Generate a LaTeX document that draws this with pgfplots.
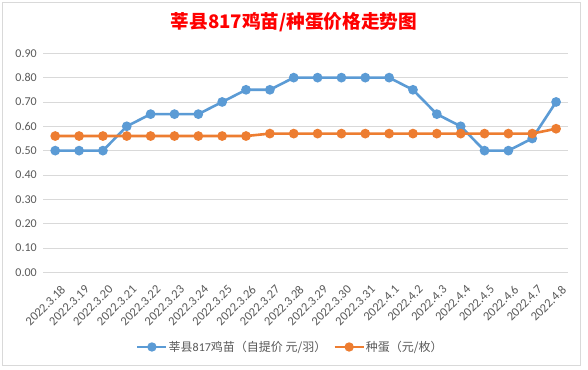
\documentclass[border=0pt]{standalone}
\usepackage{fontspec}
\usepackage{pgfplots}
\pgfplotsset{compat=1.18}
\setmainfont{Carlito}
\newfontfamily\cjk{Noto Sans CJK SC}
\definecolor{blueS}{HTML}{5B9BD5}
\definecolor{orangeS}{HTML}{ED7D31}
\definecolor{gridC}{HTML}{D9D9D9}
\definecolor{tickC}{HTML}{595959}
\definecolor{titleC}{HTML}{FF0000}
\begin{document}
\begin{tikzpicture}
\useasboundingbox (0,0) rectangle (588pt,369pt);
\fill[white] (0,0) rectangle (588pt,369pt);
\draw[gridC, line width=0.75pt] (2pt,4pt) rectangle (580pt,367pt);
\node[font=\fontsize{18.67}{22}\selectfont\cjk\bfseries, text=titleC] at (294pt,347pt) {莘县817鸡苗/种蛋价格走势图};
\begin{axis}[
  at={(43.3pt,96.7pt)}, anchor=south west,
  scale only axis, width=524.7pt, height=219pt,
  xmin=-0.5, xmax=21.5, ymin=0, ymax=0.9,
  clip=false,
  axis line style={draw=none},
  ymajorgrids, grid style={gridC, line width=0.75pt},
  major tick length=0pt,
  ytick={0,0.1,...,0.9},
  /pgf/number format/fixed, /pgf/number format/fixed zerofill, /pgf/number format/precision=2,
  /pgf/number format/assume math mode=true,
  yticklabel style={font=\fontsize{12}{14}\selectfont, text=tickC, xshift=-3pt},
  xtick={0,...,21},
  xticklabels={2022.3.18,2022.3.19,2022.3.20,2022.3.21,2022.3.22,2022.3.23,2022.3.24,2022.3.25,2022.3.26,2022.3.27,2022.3.28,2022.3.29,2022.3.30,2022.3.31,2022.4.1,2022.4.2,2022.4.3,2022.4.4,2022.4.5,2022.4.6,2022.4.7,2022.4.8},
  xticklabel style={font=\fontsize{12.5}{14}\selectfont, text=tickC, rotate=45, anchor=north east, inner sep=1pt, xshift=-4pt, yshift=-11pt},
  legend columns=2,
  legend style={at={(0.470,-0.341)}, anchor=center, draw=none, fill=none, inner sep=0pt,
    font=\fontsize{12}{14}\selectfont, text=tickC, nodes={inner sep=1pt}},
  /tikz/every even column/.append style={column sep=6pt},
  legend image code/.code={\draw[#1, mark=none] (0pt,0pt) -- (29pt,0pt); \fill[#1] (14.5pt,0pt) circle (3.3pt);},
]
\addplot[blueS, line width=2.6pt, mark=*, mark size=3.5pt, mark options={solid}] coordinates {
(0,0.50) (1,0.50) (2,0.50) (3,0.60) (4,0.65) (5,0.65) (6,0.65) (7,0.70) (8,0.75) (9,0.75) (10,0.80)
(11,0.80) (12,0.80) (13,0.80) (14,0.80) (15,0.75) (16,0.65) (17,0.60) (18,0.50) (19,0.50) (20,0.55) (21,0.70)};
\addlegendentry{{\cjk 莘县}817{\cjk 鸡苗（自提价 元/羽）}}
\addplot[orangeS, line width=2.6pt, mark=*, mark size=3.5pt, mark options={solid}] coordinates {
(0,0.56) (1,0.56) (2,0.56) (3,0.56) (4,0.56) (5,0.56) (6,0.56) (7,0.56) (8,0.56) (9,0.57) (10,0.57)
(11,0.57) (12,0.57) (13,0.57) (14,0.57) (15,0.57) (16,0.57) (17,0.57) (18,0.57) (19,0.57) (20,0.57) (21,0.59)};
\addlegendentry{{\cjk 种蛋（元/枚）}}
\end{axis}
\end{tikzpicture}
\end{document}
